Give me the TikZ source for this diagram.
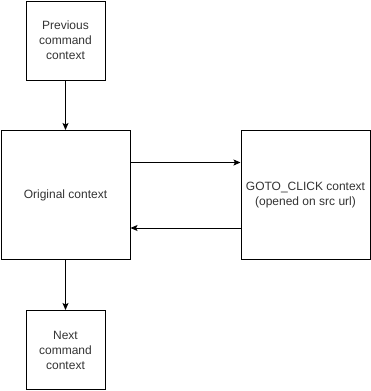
\documentclass[tikz,border=0pt]{standalone}
\usepackage{fontspec}
\setmainfont{Liberation Sans}
\usepackage{tikz}
\usetikzlibrary{arrows.meta}

\begin{document}
\begin{tikzpicture}[x=1pt, y=-1pt,
    ctx/.style={draw=black, line width=1pt, align=center, text=black!80, inner sep=0pt,
      font=\fontsize{12}{15}\selectfont},
    flow/.style={-{Stealth[length=7pt, width=6pt, inset=1.5pt]}, line width=1pt}]

      \useasboundingbox (0, 0) rectangle (371, 391);

      \node[ctx, minimum width=79pt, minimum height=79pt] (prev) at (65.5, 40.5) {Previous\\command\\context};
      \node[ctx, minimum width=129pt, minimum height=129pt] (orig) at (65.5, 195) {Original context};
      \node[ctx, minimum width=129pt, minimum height=129pt] (goto) at (305.5, 195) {GOTO\_CLICK context\\(opened on src url)};
      \node[ctx, minimum width=79pt, minimum height=79pt] (next) at (65.5, 350) {Next\\command\\context};

      \draw[flow] (prev.south) -- (orig.north);
      \draw[flow] (orig.east |- 0, 162.5) -- (goto.west |- 0, 162.5);
      \draw[flow] (goto.west |- 0, 228) -- (orig.east |- 0, 228);
      \draw[flow] (orig.south) -- (next.north);

    \end{tikzpicture}
\end{document}
